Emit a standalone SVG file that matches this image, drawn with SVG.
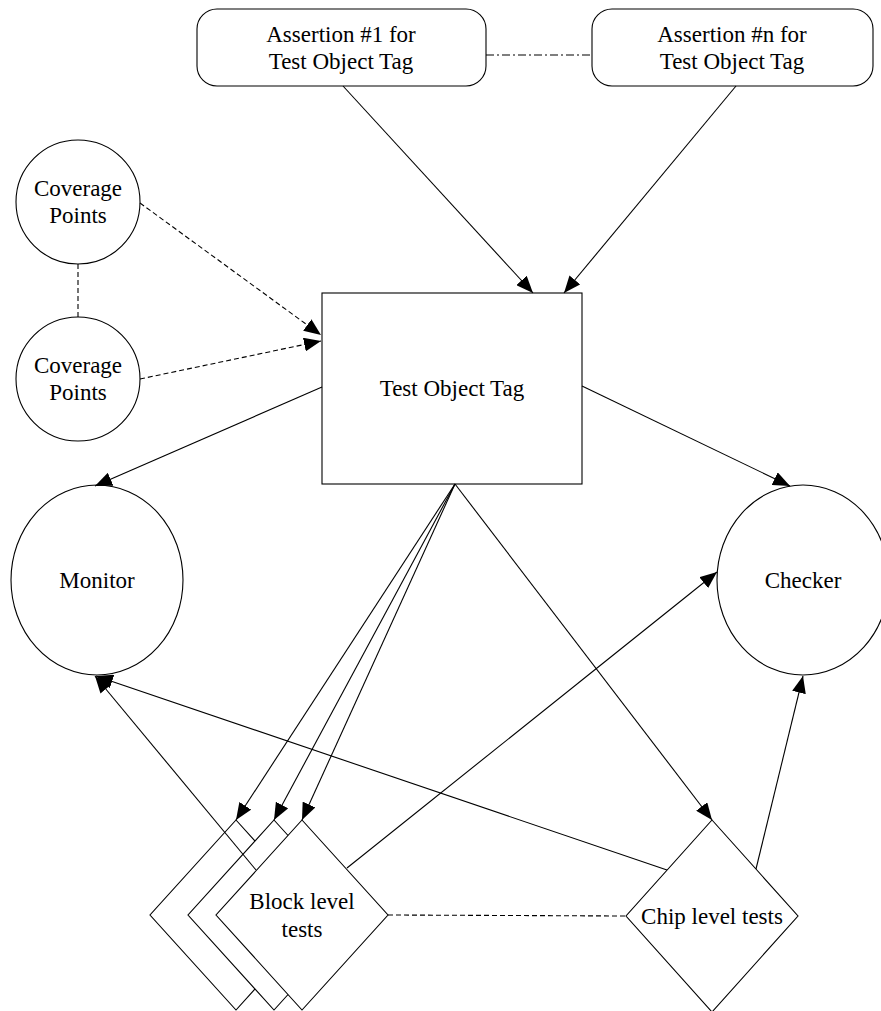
<svg xmlns="http://www.w3.org/2000/svg" width="881" height="1011" viewBox="0 0 881 1011">
<style>
.n{fill:#fff;stroke:#000;stroke-width:1.1}
.t{font-family:"Liberation Serif","DejaVu Serif","Times New Roman",serif;font-size:23px;fill:#000;text-anchor:middle;dominant-baseline:central}
.c{fill:none;stroke:#000;stroke-width:1.1}
.d{stroke-dasharray:5,3}
.dd{stroke-dasharray:8,3,2,3}
</style>
<defs>
<marker id="ah" markerUnits="userSpaceOnUse" markerWidth="18" markerHeight="14" refX="17" refY="7" orient="auto">
<path d="M0,0 L17,7 L0,14 z" fill="#000"/>
</marker>
</defs>
<g id="assert1"><rect class="n" x="197" y="9" width="289" height="77" rx="20"/><text class="t" x="341" y="34">Assertion #1 for</text><text class="t" x="341" y="61">Test Object Tag</text></g>
<g id="assertn"><rect class="n" x="592" y="9" width="281" height="77" rx="20"/><text class="t" x="732" y="34">Assertion #n for</text><text class="t" x="732" y="61">Test Object Tag</text></g>
<g id="cov1"><circle class="n" cx="78" cy="202" r="62"/><text class="t" x="78" y="188">Coverage</text><text class="t" x="78" y="215">Points</text></g>
<g id="cov2"><circle class="n" cx="78" cy="379" r="62"/><text class="t" x="78" y="365">Coverage</text><text class="t" x="78" y="392">Points</text></g>
<g id="tag"><rect class="n" x="322" y="293" width="260" height="191"/><text class="t" x="452" y="388">Test Object Tag</text></g>
<g id="monitor"><ellipse class="n" cx="97" cy="580" rx="86" ry="95"/><text class="t" x="97" y="580">Monitor</text></g>
<g id="checker"><ellipse class="n" cx="803" cy="580" rx="86" ry="95"/><text class="t" x="803" y="580">Checker</text></g>
<g id="block"><polygon class="n" points="236,820 322,915 236,1010 150,915"/><polygon class="n" points="274,820 360,915 274,1010 188,915"/><polygon class="n" points="302,820 388,915 302,1010 216,915"/><text class="t" x="302" y="901">Block level</text><text class="t" x="302" y="929">tests</text></g>
<g id="chip"><polygon class="n" points="712,820 798,916 712,1012 626,916"/><text class="t" x="712" y="916">Chip level tests</text></g>
<g id="connectors">
<line class="c dd" x1="486" y1="55" x2="592" y2="55"/>
<line class="c" x1="343" y1="86" x2="533" y2="293" marker-end="url(#ah)"/>
<line class="c" x1="736" y1="86" x2="564" y2="293" marker-end="url(#ah)"/>
<line class="c d" x1="78" y1="264" x2="78" y2="317"/>
<line class="c d" x1="140" y1="203" x2="321" y2="335" marker-end="url(#ah)"/>
<line class="c d" x1="140" y1="379" x2="321" y2="341" marker-end="url(#ah)"/>
<line class="c" x1="322" y1="387" x2="95" y2="486" marker-end="url(#ah)"/>
<line class="c" x1="582" y1="386" x2="790" y2="486" marker-end="url(#ah)"/>
<line class="c" x1="455" y1="484" x2="236" y2="820" marker-end="url(#ah)"/>
<line class="c" x1="455" y1="484" x2="274" y2="820" marker-end="url(#ah)"/>
<line class="c" x1="455" y1="484" x2="302" y2="820" marker-end="url(#ah)"/>
<line class="c" x1="455" y1="484" x2="712" y2="820" marker-end="url(#ah)"/>
<line class="c" x1="256" y1="870" x2="95" y2="676" marker-end="url(#ah)"/>
<line class="c" x1="667" y1="870" x2="96" y2="676" marker-end="url(#ah)"/>
<line class="c" x1="347" y1="868" x2="717" y2="572" marker-end="url(#ah)"/>
<line class="c" x1="756" y1="869" x2="803" y2="676" marker-end="url(#ah)"/>
<line class="c d" x1="388" y1="915" x2="626" y2="916"/>
</g>
</svg>
